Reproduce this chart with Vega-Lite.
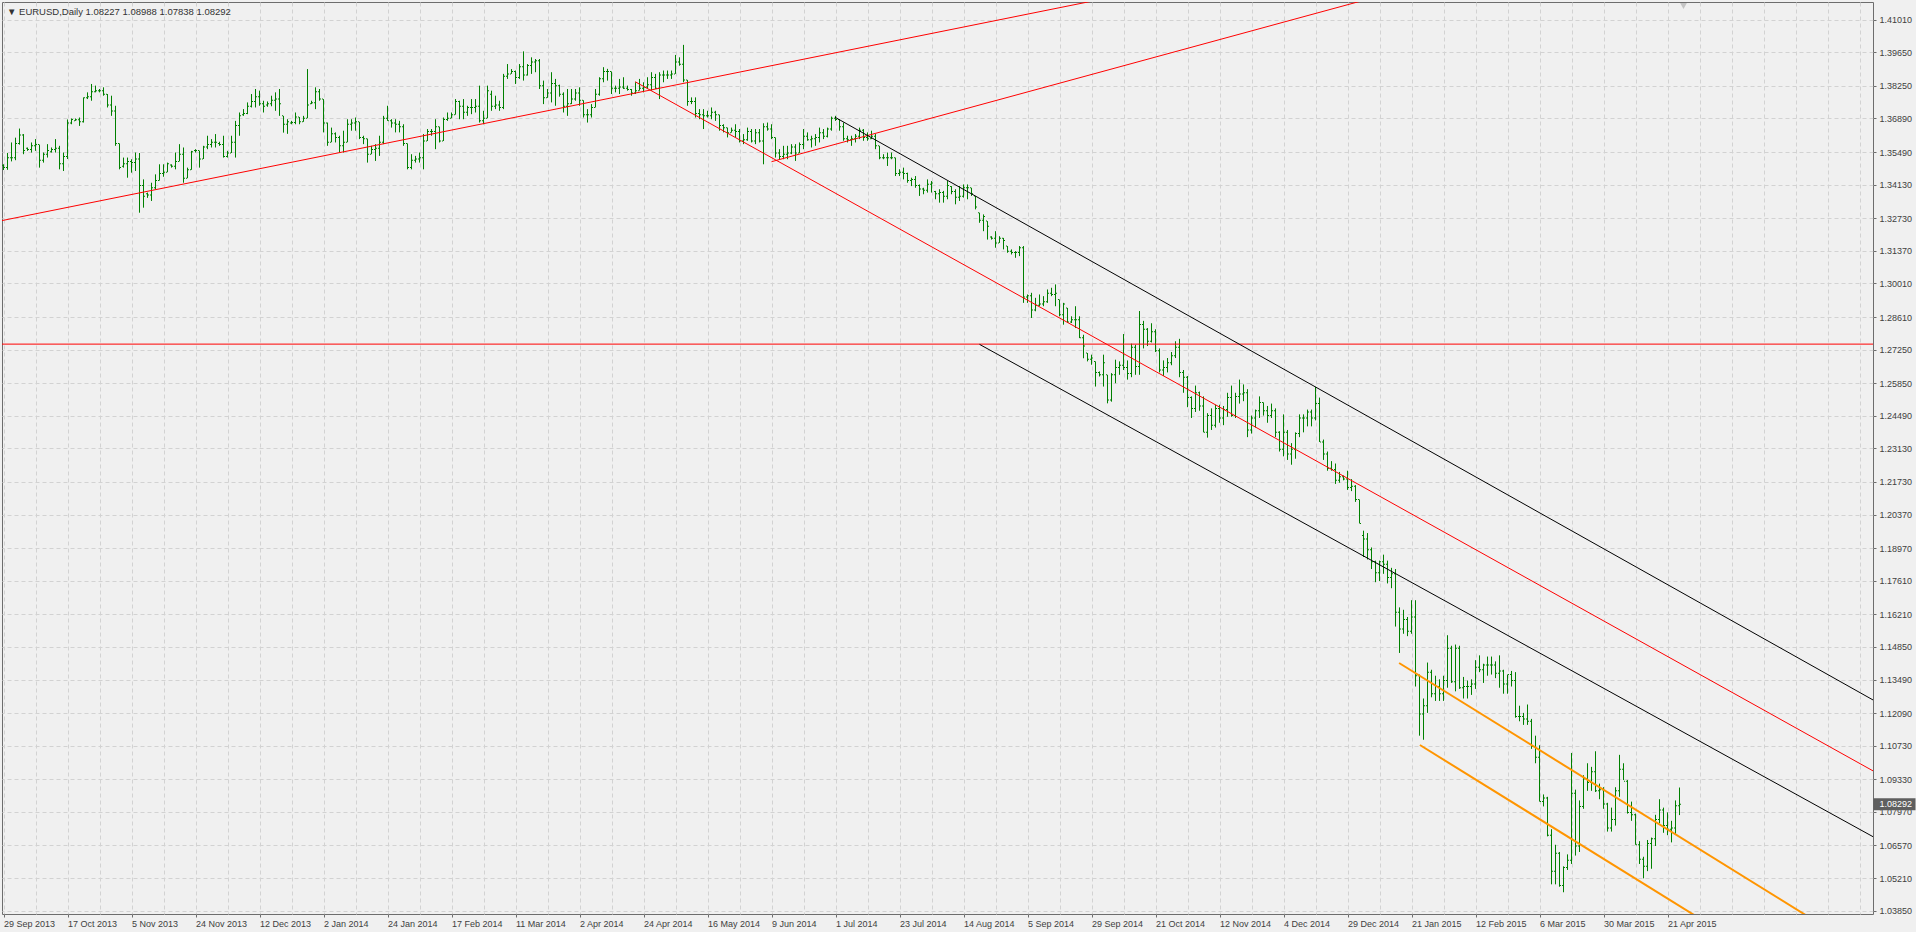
{
"$schema":"https://vega.github.io/schema/vega-lite/v6.json",
"width":1871,"height":912,
"autosize":{"type":"none"},
"padding":{"left":2,"top":2,"right":43,"bottom":18},
"background":"#f0f0f0",
"title":{"text":"▼ EURUSD,Daily  1.08227 1.08988 1.07838 1.08292","anchor":"start","frame":"group","offset":-14,"dx":5,"fontSize":9.5,"fontWeight":"normal","color":"#333333","font":"Liberation Sans"},
"config":{"view":{"stroke":"#6d6d6d","strokeWidth":1,"fill":"#f0f0f0"},"font":"Liberation Sans"},
"datasets":{
"bars":[
{"i":0,"o":1.3494,"h":1.3498,"l":1.3474,"c":1.3485},{"i":1,"o":1.3485,"h":1.3545,"l":1.3475,"c":1.3525},{"i":2,"o":1.3525,"h":1.3589,"l":1.3510,"c":1.3525},{"i":3,"o":1.3525,"h":1.3609,"l":1.3515,"c":1.3585},{"i":4,"o":1.3585,"h":1.3647,"l":1.3580,"c":1.3620},{"i":5,"o":1.3620,"h":1.3624,"l":1.3540,"c":1.3555},{"i":6,"o":1.3565,"h":1.3568,"l":1.3554,"c":1.3560},{"i":7,"o":1.3560,"h":1.3589,"l":1.3547,"c":1.3575},{"i":8,"o":1.3575,"h":1.3603,"l":1.3554,"c":1.3580},{"i":9,"o":1.3580,"h":1.3580,"l":1.3484,"c":1.3515},
{"i":10,"o":1.3515,"h":1.3547,"l":1.3505,"c":1.3540},{"i":11,"o":1.3540,"h":1.3582,"l":1.3526,"c":1.3555},{"i":12,"o":1.3550,"h":1.3568,"l":1.3547,"c":1.3560},{"i":13,"o":1.3560,"h":1.3603,"l":1.3547,"c":1.3565},{"i":14,"o":1.3565,"h":1.3575,"l":1.3477,"c":1.3500},{"i":15,"o":1.3500,"h":1.3547,"l":1.3470,"c":1.3530},{"i":16,"o":1.3530,"h":1.3685,"l":1.3520,"c":1.3670},{"i":17,"o":1.3670,"h":1.3689,"l":1.3665,"c":1.3685},{"i":18,"o":1.3680,"h":1.3689,"l":1.3679,"c":1.3684},{"i":19,"o":1.3684,"h":1.3693,"l":1.3658,"c":1.3675},
{"i":20,"o":1.3675,"h":1.3777,"l":1.3672,"c":1.3775},{"i":21,"o":1.3775,"h":1.3798,"l":1.3770,"c":1.3780},{"i":22,"o":1.3780,"h":1.3833,"l":1.3763,"c":1.3800},{"i":23,"o":1.3800,"h":1.3826,"l":1.3798,"c":1.3805},{"i":24,"o":1.3805,"h":1.3812,"l":1.3798,"c":1.3805},{"i":25,"o":1.3805,"h":1.3819,"l":1.3784,"c":1.3790},{"i":26,"o":1.3790,"h":1.3791,"l":1.3735,"c":1.3745},{"i":27,"o":1.3745,"h":1.3784,"l":1.3700,"c":1.3720},{"i":28,"o":1.3720,"h":1.3742,"l":1.3575,"c":1.3585},{"i":29,"o":1.3585,"h":1.3585,"l":1.3477,"c":1.3485},
{"i":30,"o":1.3490,"h":1.3526,"l":1.3484,"c":1.3500},{"i":31,"o":1.3500,"h":1.3526,"l":1.3442,"c":1.3510},{"i":32,"o":1.3510,"h":1.3519,"l":1.3463,"c":1.3505},{"i":33,"o":1.3505,"h":1.3547,"l":1.3470,"c":1.3520},{"i":34,"o":1.3520,"h":1.3545,"l":1.3296,"c":1.3410},{"i":35,"o":1.3410,"h":1.3435,"l":1.3317,"c":1.3365},{"i":36,"o":1.3375,"h":1.3380,"l":1.3358,"c":1.3370},{"i":37,"o":1.3370,"h":1.3421,"l":1.3345,"c":1.3400},{"i":38,"o":1.3400,"h":1.3456,"l":1.3394,"c":1.3430},{"i":39,"o":1.3430,"h":1.3498,"l":1.3430,"c":1.3460},
{"i":40,"o":1.3460,"h":1.3498,"l":1.3446,"c":1.3465},{"i":41,"o":1.3465,"h":1.3505,"l":1.3465,"c":1.3500},{"i":42,"o":1.3495,"h":1.3498,"l":1.3484,"c":1.3490},{"i":43,"o":1.3490,"h":1.3547,"l":1.3477,"c":1.3510},{"i":44,"o":1.3510,"h":1.3582,"l":1.3510,"c":1.3540},{"i":45,"o":1.3540,"h":1.3568,"l":1.3421,"c":1.3440},{"i":46,"o":1.3440,"h":1.3484,"l":1.3440,"c":1.3475},{"i":47,"o":1.3475,"h":1.3554,"l":1.3475,"c":1.3550},{"i":48,"o":1.3555,"h":1.3561,"l":1.3547,"c":1.3555},{"i":49,"o":1.3555,"h":1.3555,"l":1.3484,"c":1.3520},
{"i":50,"o":1.3520,"h":1.3575,"l":1.3520,"c":1.3570},{"i":51,"o":1.3570,"h":1.3617,"l":1.3561,"c":1.3580},{"i":52,"o":1.3580,"h":1.3603,"l":1.3568,"c":1.3590},{"i":53,"o":1.3590,"h":1.3624,"l":1.3568,"c":1.3590},{"i":54,"o":1.3585,"h":1.3592,"l":1.3575,"c":1.3580},{"i":55,"o":1.3580,"h":1.3617,"l":1.3526,"c":1.3530},{"i":56,"o":1.3530,"h":1.3554,"l":1.3526,"c":1.3545},{"i":57,"o":1.3545,"h":1.3617,"l":1.3545,"c":1.3590},{"i":58,"o":1.3590,"h":1.3679,"l":1.3526,"c":1.3660},{"i":59,"o":1.3660,"h":1.3714,"l":1.3617,"c":1.3700},
{"i":60,"o":1.3705,"h":1.3728,"l":1.3700,"c":1.3710},{"i":61,"o":1.3710,"h":1.3756,"l":1.3707,"c":1.3740},{"i":62,"o":1.3740,"h":1.3791,"l":1.3735,"c":1.3760},{"i":63,"o":1.3760,"h":1.3812,"l":1.3735,"c":1.3780},{"i":64,"o":1.3780,"h":1.3805,"l":1.3742,"c":1.3750},{"i":65,"o":1.3750,"h":1.3763,"l":1.3714,"c":1.3740},{"i":66,"o":1.3745,"h":1.3760,"l":1.3738,"c":1.3750},{"i":67,"o":1.3750,"h":1.3784,"l":1.3740,"c":1.3765},{"i":68,"o":1.3765,"h":1.3798,"l":1.3721,"c":1.3770},{"i":69,"o":1.3770,"h":1.3812,"l":1.3700,"c":1.3750},
{"i":70,"o":1.3700,"h":1.3700,"l":1.3630,"c":1.3665},{"i":71,"o":1.3665,"h":1.3686,"l":1.3625,"c":1.3675},{"i":72,"o":1.3670,"h":1.3679,"l":1.3665,"c":1.3672},{"i":73,"o":1.3672,"h":1.3714,"l":1.3665,"c":1.3695},{"i":74,"o":1.3695,"h":1.3695,"l":1.3665,"c":1.3675},{"i":75,"o":1.3675,"h":1.3700,"l":1.3675,"c":1.3690},{"i":76,"o":1.3690,"h":1.3895,"l":1.3690,"c":1.3745},{"i":77,"o":1.3750,"h":1.3763,"l":1.3749,"c":1.3755},{"i":78,"o":1.3755,"h":1.3819,"l":1.3728,"c":1.3800},{"i":79,"o":1.3800,"h":1.3812,"l":1.3763,"c":1.3770},
{"i":80,"o":1.3770,"h":1.3770,"l":1.3631,"c":1.3670},{"i":81,"o":1.3670,"h":1.3672,"l":1.3575,"c":1.3590},{"i":82,"o":1.3590,"h":1.3651,"l":1.3590,"c":1.3625},{"i":83,"o":1.3625,"h":1.3631,"l":1.3589,"c":1.3610},{"i":84,"o":1.3610,"h":1.3617,"l":1.3547,"c":1.3575},{"i":85,"o":1.3575,"h":1.3638,"l":1.3547,"c":1.3590},{"i":86,"o":1.3590,"h":1.3686,"l":1.3590,"c":1.3665},{"i":87,"o":1.3665,"h":1.3686,"l":1.3638,"c":1.3670},{"i":88,"o":1.3670,"h":1.3693,"l":1.3638,"c":1.3675},{"i":89,"o":1.3675,"h":1.3675,"l":1.3603,"c":1.3610},
{"i":90,"o":1.3610,"h":1.3617,"l":1.3582,"c":1.3605},{"i":91,"o":1.3605,"h":1.3605,"l":1.3505,"c":1.3540},{"i":92,"o":1.3540,"h":1.3575,"l":1.3540,"c":1.3560},{"i":93,"o":1.3560,"h":1.3582,"l":1.3512,"c":1.3565},{"i":94,"o":1.3565,"h":1.3617,"l":1.3533,"c":1.3590},{"i":95,"o":1.3590,"h":1.3700,"l":1.3582,"c":1.3690},{"i":96,"o":1.3690,"h":1.3742,"l":1.3679,"c":1.3680},{"i":97,"o":1.3680,"h":1.3686,"l":1.3651,"c":1.3670},{"i":98,"o":1.3670,"h":1.3686,"l":1.3631,"c":1.3665},{"i":99,"o":1.3665,"h":1.3679,"l":1.3631,"c":1.3655},
{"i":100,"o":1.3655,"h":1.3665,"l":1.3575,"c":1.3585},{"i":101,"o":1.3585,"h":1.3585,"l":1.3477,"c":1.3485},{"i":102,"o":1.3485,"h":1.3540,"l":1.3477,"c":1.3515},{"i":103,"o":1.3515,"h":1.3533,"l":1.3505,"c":1.3520},{"i":104,"o":1.3520,"h":1.3547,"l":1.3505,"c":1.3525},{"i":105,"o":1.3525,"h":1.3624,"l":1.3477,"c":1.3595},{"i":106,"o":1.3595,"h":1.3645,"l":1.3595,"c":1.3635},{"i":107,"o":1.3635,"h":1.3645,"l":1.3617,"c":1.3635},{"i":108,"o":1.3635,"h":1.3686,"l":1.3561,"c":1.3655},{"i":109,"o":1.3655,"h":1.3655,"l":1.3589,"c":1.3595},
{"i":110,"o":1.3595,"h":1.3693,"l":1.3595,"c":1.3685},{"i":111,"o":1.3685,"h":1.3714,"l":1.3679,"c":1.3690},{"i":112,"o":1.3690,"h":1.3714,"l":1.3690,"c":1.3705},{"i":113,"o":1.3705,"h":1.3770,"l":1.3705,"c":1.3760},{"i":114,"o":1.3760,"h":1.3763,"l":1.3686,"c":1.3740},{"i":115,"o":1.3740,"h":1.3770,"l":1.3686,"c":1.3715},{"i":116,"o":1.3715,"h":1.3742,"l":1.3700,"c":1.3735},{"i":117,"o":1.3735,"h":1.3770,"l":1.3707,"c":1.3735},{"i":118,"o":1.3735,"h":1.3770,"l":1.3714,"c":1.3740},{"i":119,"o":1.3740,"h":1.3826,"l":1.3672,"c":1.3680},
{"i":120,"o":1.3680,"h":1.3721,"l":1.3665,"c":1.3690},{"i":121,"o":1.3690,"h":1.3826,"l":1.3690,"c":1.3805},{"i":122,"o":1.3790,"h":1.3805,"l":1.3721,"c":1.3740},{"i":123,"o":1.3740,"h":1.3784,"l":1.3728,"c":1.3745},{"i":124,"o":1.3745,"h":1.3763,"l":1.3721,"c":1.3735},{"i":125,"o":1.3735,"h":1.3875,"l":1.3728,"c":1.3865},{"i":126,"o":1.3865,"h":1.3916,"l":1.3854,"c":1.3875},{"i":127,"o":1.3875,"h":1.3895,"l":1.3875,"c":1.3885},{"i":128,"o":1.3885,"h":1.3889,"l":1.3833,"c":1.3860},{"i":129,"o":1.3860,"h":1.3916,"l":1.3854,"c":1.3905},
{"i":130,"o":1.3905,"h":1.3969,"l":1.3847,"c":1.3870},{"i":131,"o":1.3870,"h":1.3916,"l":1.3868,"c":1.3910},{"i":132,"o":1.3910,"h":1.3944,"l":1.3875,"c":1.3925},{"i":133,"o":1.3925,"h":1.3937,"l":1.3882,"c":1.3930},{"i":134,"o":1.3930,"h":1.3937,"l":1.3812,"c":1.3825},{"i":135,"o":1.3825,"h":1.3847,"l":1.3749,"c":1.3775},{"i":136,"o":1.3775,"h":1.3812,"l":1.3775,"c":1.3795},{"i":137,"o":1.3795,"h":1.3882,"l":1.3756,"c":1.3835},{"i":138,"o":1.3835,"h":1.3854,"l":1.3742,"c":1.3825},{"i":139,"o":1.3825,"h":1.3830,"l":1.3780,"c":1.3790},
{"i":140,"o":1.3790,"h":1.3798,"l":1.3714,"c":1.3740},{"i":141,"o":1.3740,"h":1.3812,"l":1.3700,"c":1.3750},{"i":142,"o":1.3750,"h":1.3812,"l":1.3749,"c":1.3770},{"i":143,"o":1.3770,"h":1.3812,"l":1.3763,"c":1.3795},{"i":144,"o":1.3795,"h":1.3819,"l":1.3742,"c":1.3765},{"i":145,"o":1.3765,"h":1.3765,"l":1.3693,"c":1.3705},{"i":146,"o":1.3705,"h":1.3728,"l":1.3672,"c":1.3705},{"i":147,"o":1.3705,"h":1.3749,"l":1.3693,"c":1.3735},{"i":148,"o":1.3735,"h":1.3812,"l":1.3735,"c":1.3790},{"i":149,"o":1.3790,"h":1.3861,"l":1.3784,"c":1.3855},
{"i":150,"o":1.3855,"h":1.3903,"l":1.3840,"c":1.3885},{"i":151,"o":1.3885,"h":1.3896,"l":1.3847,"c":1.3885},{"i":152,"o":1.3885,"h":1.3885,"l":1.3791,"c":1.3815},{"i":153,"o":1.3815,"h":1.3826,"l":1.3798,"c":1.3815},{"i":154,"o":1.3815,"h":1.3854,"l":1.3791,"c":1.3820},{"i":155,"o":1.3820,"h":1.3861,"l":1.3812,"c":1.3815},{"i":156,"o":1.3815,"h":1.3826,"l":1.3805,"c":1.3810},{"i":157,"o":1.3810,"h":1.3812,"l":1.3784,"c":1.3795},{"i":158,"o":1.3795,"h":1.3840,"l":1.3791,"c":1.3805},{"i":159,"o":1.3805,"h":1.3854,"l":1.3805,"c":1.3815},
{"i":160,"o":1.3815,"h":1.3840,"l":1.3798,"c":1.3820},{"i":161,"o":1.3820,"h":1.3861,"l":1.3812,"c":1.3830},{"i":162,"o":1.3830,"h":1.3882,"l":1.3805,"c":1.3860},{"i":163,"o":1.3860,"h":1.3875,"l":1.3812,"c":1.3815},{"i":164,"o":1.3815,"h":1.3882,"l":1.3770,"c":1.3870},{"i":165,"o":1.3870,"h":1.3889,"l":1.3840,"c":1.3870},{"i":166,"o":1.3870,"h":1.3889,"l":1.3854,"c":1.3870},{"i":167,"o":1.3870,"h":1.3889,"l":1.3854,"c":1.3875},{"i":168,"o":1.3875,"h":1.3954,"l":1.3875,"c":1.3925},{"i":169,"o":1.3925,"h":1.3944,"l":1.3909,"c":1.3915},
{"i":170,"o":1.3915,"h":1.3996,"l":1.3840,"c":1.3850},{"i":171,"o":1.3850,"h":1.3850,"l":1.3742,"c":1.3760},{"i":172,"o":1.3760,"h":1.3777,"l":1.3749,"c":1.3760},{"i":173,"o":1.3760,"h":1.3777,"l":1.3693,"c":1.3710},{"i":174,"o":1.3710,"h":1.3728,"l":1.3686,"c":1.3705},{"i":175,"o":1.3705,"h":1.3728,"l":1.3645,"c":1.3700},{"i":176,"o":1.3700,"h":1.3721,"l":1.3693,"c":1.3700},{"i":177,"o":1.3700,"h":1.3735,"l":1.3686,"c":1.3715},{"i":178,"o":1.3715,"h":1.3721,"l":1.3679,"c":1.3705},{"i":179,"o":1.3705,"h":1.3705,"l":1.3638,"c":1.3660},
{"i":180,"o":1.3660,"h":1.3665,"l":1.3631,"c":1.3650},{"i":181,"o":1.3650,"h":1.3651,"l":1.3610,"c":1.3630},{"i":182,"o":1.3630,"h":1.3651,"l":1.3630,"c":1.3640},{"i":183,"o":1.3640,"h":1.3665,"l":1.3610,"c":1.3635},{"i":184,"o":1.3635,"h":1.3645,"l":1.3589,"c":1.3595},{"i":185,"o":1.3595,"h":1.3624,"l":1.3582,"c":1.3600},{"i":186,"o":1.3600,"h":1.3651,"l":1.3596,"c":1.3635},{"i":187,"o":1.3635,"h":1.3645,"l":1.3589,"c":1.3595},{"i":188,"o":1.3595,"h":1.3645,"l":1.3582,"c":1.3630},{"i":189,"o":1.3630,"h":1.3645,"l":1.3589,"c":1.3595},
{"i":190,"o":1.3595,"h":1.3669,"l":1.3498,"c":1.3655},{"i":191,"o":1.3655,"h":1.3672,"l":1.3638,"c":1.3645},{"i":192,"o":1.3645,"h":1.3665,"l":1.3603,"c":1.3610},{"i":193,"o":1.3610,"h":1.3610,"l":1.3526,"c":1.3545},{"i":194,"o":1.3545,"h":1.3561,"l":1.3519,"c":1.3530},{"i":195,"o":1.3530,"h":1.3575,"l":1.3519,"c":1.3540},{"i":196,"o":1.3540,"h":1.3575,"l":1.3519,"c":1.3545},{"i":197,"o":1.3545,"h":1.3582,"l":1.3540,"c":1.3570},{"i":198,"o":1.3570,"h":1.3582,"l":1.3512,"c":1.3545},{"i":199,"o":1.3545,"h":1.3589,"l":1.3545,"c":1.3580},
{"i":200,"o":1.3580,"h":1.3645,"l":1.3561,"c":1.3615},{"i":201,"o":1.3615,"h":1.3631,"l":1.3596,"c":1.3600},{"i":202,"o":1.3600,"h":1.3617,"l":1.3568,"c":1.3605},{"i":203,"o":1.3605,"h":1.3624,"l":1.3575,"c":1.3610},{"i":204,"o":1.3610,"h":1.3651,"l":1.3589,"c":1.3630},{"i":205,"o":1.3630,"h":1.3645,"l":1.3603,"c":1.3615},{"i":206,"o":1.3615,"h":1.3651,"l":1.3610,"c":1.3645},{"i":207,"o":1.3645,"h":1.3697,"l":1.3638,"c":1.3690},{"i":208,"o":1.3690,"h":1.3700,"l":1.3679,"c":1.3685},{"i":209,"o":1.3685,"h":1.3686,"l":1.3638,"c":1.3655},
{"i":210,"o":1.3655,"h":1.3672,"l":1.3596,"c":1.3605},{"i":211,"o":1.3605,"h":1.3617,"l":1.3589,"c":1.3600},{"i":212,"o":1.3600,"h":1.3617,"l":1.3575,"c":1.3605},{"i":213,"o":1.3605,"h":1.3624,"l":1.3589,"c":1.3615},{"i":214,"o":1.3615,"h":1.3651,"l":1.3603,"c":1.3640},{"i":215,"o":1.3640,"h":1.3645,"l":1.3596,"c":1.3610},{"i":216,"o":1.3610,"h":1.3631,"l":1.3596,"c":1.3605},{"i":217,"o":1.3605,"h":1.3638,"l":1.3603,"c":1.3615},{"i":218,"o":1.3615,"h":1.3624,"l":1.3561,"c":1.3575},{"i":219,"o":1.3575,"h":1.3575,"l":1.3519,"c":1.3525},
{"i":220,"o":1.3525,"h":1.3540,"l":1.3519,"c":1.3525},{"i":221,"o":1.3525,"h":1.3547,"l":1.3491,"c":1.3525},{"i":222,"o":1.3525,"h":1.3547,"l":1.3519,"c":1.3525},{"i":223,"o":1.3525,"h":1.3526,"l":1.3449,"c":1.3460},{"i":224,"o":1.3460,"h":1.3477,"l":1.3449,"c":1.3465},{"i":225,"o":1.3465,"h":1.3484,"l":1.3435,"c":1.3460},{"i":226,"o":1.3460,"h":1.3463,"l":1.3421,"c":1.3430},{"i":227,"o":1.3430,"h":1.3442,"l":1.3407,"c":1.3435},{"i":228,"o":1.3435,"h":1.3449,"l":1.3400,"c":1.3410},{"i":229,"o":1.3410,"h":1.3414,"l":1.3366,"c":1.3395},
{"i":230,"o":1.3395,"h":1.3400,"l":1.3373,"c":1.3390},{"i":231,"o":1.3390,"h":1.3435,"l":1.3380,"c":1.3415},{"i":232,"o":1.3415,"h":1.3428,"l":1.3380,"c":1.3420},{"i":233,"o":1.3385,"h":1.3387,"l":1.3352,"c":1.3375},{"i":234,"o":1.3375,"h":1.3394,"l":1.3338,"c":1.3380},{"i":235,"o":1.3380,"h":1.3387,"l":1.3338,"c":1.3365},{"i":236,"o":1.3365,"h":1.3428,"l":1.3352,"c":1.3410},{"i":237,"o":1.3405,"h":1.3407,"l":1.3373,"c":1.3385},{"i":238,"o":1.3385,"h":1.3394,"l":1.3331,"c":1.3360},{"i":239,"o":1.3360,"h":1.3407,"l":1.3345,"c":1.3365},
{"i":240,"o":1.3365,"h":1.3414,"l":1.3359,"c":1.3400},{"i":241,"o":1.3400,"h":1.3414,"l":1.3352,"c":1.3400},{"i":242,"o":1.3400,"h":1.3400,"l":1.3366,"c":1.3375},{"i":243,"o":1.3366,"h":1.3366,"l":1.3310,"c":1.3320},{"i":244,"o":1.3296,"h":1.3296,"l":1.3254,"c":1.3265},{"i":245,"o":1.3265,"h":1.3289,"l":1.3219,"c":1.3280},{"i":246,"o":1.3261,"h":1.3261,"l":1.3184,"c":1.3240},{"i":247,"o":1.3195,"h":1.3198,"l":1.3184,"c":1.3190},{"i":248,"o":1.3190,"h":1.3219,"l":1.3150,"c":1.3170},{"i":249,"o":1.3170,"h":1.3198,"l":1.3170,"c":1.3190},
{"i":250,"o":1.3190,"h":1.3191,"l":1.3143,"c":1.3180},{"i":251,"o":1.3157,"h":1.3157,"l":1.3129,"c":1.3135},{"i":252,"o":1.3135,"h":1.3143,"l":1.3122,"c":1.3130},{"i":253,"o":1.3130,"h":1.3136,"l":1.3108,"c":1.3130},{"i":254,"o":1.3130,"h":1.3157,"l":1.3115,"c":1.3150},{"i":255,"o":1.3150,"h":1.3157,"l":1.2920,"c":1.2945},{"i":256,"o":1.2945,"h":1.2955,"l":1.2920,"c":1.2950},{"i":257,"o":1.2950,"h":1.2962,"l":1.2857,"c":1.2890},{"i":258,"o":1.2890,"h":1.2941,"l":1.2885,"c":1.2910},{"i":259,"o":1.2910,"h":1.2955,"l":1.2906,"c":1.2915},
{"i":260,"o":1.2915,"h":1.2948,"l":1.2906,"c":1.2925},{"i":261,"o":1.2925,"h":1.2976,"l":1.2920,"c":1.2960},{"i":262,"o":1.2960,"h":1.2983,"l":1.2948,"c":1.2955},{"i":263,"o":1.2955,"h":1.2997,"l":1.2906,"c":1.2960},{"i":264,"o":1.2934,"h":1.2934,"l":1.2864,"c":1.2870},{"i":265,"o":1.2870,"h":1.2920,"l":1.2829,"c":1.2915},{"i":266,"o":1.2899,"h":1.2899,"l":1.2836,"c":1.2840},{"i":267,"o":1.2840,"h":1.2864,"l":1.2836,"c":1.2850},{"i":268,"o":1.2850,"h":1.2906,"l":1.2815,"c":1.2850},{"i":269,"o":1.2850,"h":1.2864,"l":1.2773,"c":1.2775},
{"i":270,"o":1.2775,"h":1.2787,"l":1.2689,"c":1.2740},{"i":271,"o":1.2711,"h":1.2711,"l":1.2676,"c":1.2685},{"i":272,"o":1.2685,"h":1.2704,"l":1.2662,"c":1.2690},{"i":273,"o":1.2676,"h":1.2676,"l":1.2571,"c":1.2630},{"i":274,"o":1.2630,"h":1.2634,"l":1.2613,"c":1.2620},{"i":275,"o":1.2620,"h":1.2704,"l":1.2571,"c":1.2670},{"i":276,"o":1.2620,"h":1.2620,"l":1.2501,"c":1.2515},{"i":277,"o":1.2515,"h":1.2627,"l":1.2508,"c":1.2620},{"i":278,"o":1.2620,"h":1.2683,"l":1.2585,"c":1.2650},{"i":279,"o":1.2650,"h":1.2676,"l":1.2620,"c":1.2660},
{"i":280,"o":1.2660,"h":1.2790,"l":1.2640,"c":1.2650},{"i":281,"o":1.2650,"h":1.2680,"l":1.2600,"c":1.2625},{"i":282,"o":1.2625,"h":1.2750,"l":1.2610,"c":1.2735},{"i":283,"o":1.2735,"h":1.2745,"l":1.2620,"c":1.2655},{"i":284,"o":1.2655,"h":1.2886,"l":1.2620,"c":1.2830},{"i":285,"o":1.2830,"h":1.2845,"l":1.2730,"c":1.2810},{"i":286,"o":1.2810,"h":1.2815,"l":1.2740,"c":1.2760},{"i":287,"o":1.2760,"h":1.2835,"l":1.2755,"c":1.2800},{"i":288,"o":1.2800,"h":1.2810,"l":1.2715,"c":1.2720},{"i":289,"o":1.2720,"h":1.2730,"l":1.2630,"c":1.2640},
{"i":290,"o":1.2640,"h":1.2680,"l":1.2615,"c":1.2650},{"i":291,"o":1.2650,"h":1.2690,"l":1.2630,"c":1.2670},{"i":292,"o":1.2670,"h":1.2715,"l":1.2660,"c":1.2700},{"i":293,"o":1.2700,"h":1.2760,"l":1.2690,"c":1.2735},{"i":294,"o":1.2735,"h":1.2770,"l":1.2610,"c":1.2630},{"i":295,"o":1.2630,"h":1.2640,"l":1.2545,"c":1.2610},{"i":296,"o":1.2610,"h":1.2615,"l":1.2485,"c":1.2525},{"i":297,"o":1.2525,"h":1.2530,"l":1.2440,"c":1.2480},{"i":298,"o":1.2480,"h":1.2575,"l":1.2465,"c":1.2545},{"i":299,"o":1.2545,"h":1.2550,"l":1.2470,"c":1.2490},
{"i":300,"o":1.2490,"h":1.2530,"l":1.2380,"c":1.2380},{"i":301,"o":1.2380,"h":1.2460,"l":1.2358,"c":1.2450},{"i":302,"o":1.2450,"h":1.2480,"l":1.2390,"c":1.2410},{"i":303,"o":1.2410,"h":1.2495,"l":1.2400,"c":1.2480},{"i":304,"o":1.2480,"h":1.2495,"l":1.2420,"c":1.2440},{"i":305,"o":1.2440,"h":1.2490,"l":1.2410,"c":1.2475},{"i":306,"o":1.2475,"h":1.2545,"l":1.2445,"c":1.2525},{"i":307,"o":1.2525,"h":1.2575,"l":1.2445,"c":1.2450},{"i":308,"o":1.2450,"h":1.2545,"l":1.2440,"c":1.2530},{"i":309,"o":1.2530,"h":1.2600,"l":1.2500,"c":1.2540},
{"i":310,"o":1.2540,"h":1.2580,"l":1.2510,"c":1.2545},{"i":311,"o":1.2545,"h":1.2560,"l":1.2360,"c":1.2390},{"i":312,"o":1.2390,"h":1.2450,"l":1.2375,"c":1.2440},{"i":313,"o":1.2440,"h":1.2475,"l":1.2400,"c":1.2470},{"i":314,"o":1.2470,"h":1.2530,"l":1.2440,"c":1.2505},{"i":315,"o":1.2505,"h":1.2505,"l":1.2450,"c":1.2470},{"i":316,"o":1.2470,"h":1.2490,"l":1.2420,"c":1.2450},{"i":317,"o":1.2450,"h":1.2500,"l":1.2440,"c":1.2470},{"i":318,"o":1.2470,"h":1.2480,"l":1.2360,"c":1.2380},{"i":319,"o":1.2380,"h":1.2385,"l":1.2300,"c":1.2310},
{"i":320,"o":1.2310,"h":1.2455,"l":1.2280,"c":1.2380},{"i":321,"o":1.2380,"h":1.2390,"l":1.2265,"c":1.2290},{"i":322,"o":1.2290,"h":1.2335,"l":1.2245,"c":1.2310},{"i":323,"o":1.2310,"h":1.2380,"l":1.2270,"c":1.2375},{"i":324,"o":1.2375,"h":1.2455,"l":1.2360,"c":1.2440},{"i":325,"o":1.2440,"h":1.2455,"l":1.2380,"c":1.2440},{"i":326,"o":1.2440,"h":1.2475,"l":1.2405,"c":1.2465},{"i":327,"o":1.2465,"h":1.2475,"l":1.2405,"c":1.2440},{"i":328,"o":1.2440,"h":1.2570,"l":1.2430,"c":1.2500},{"i":329,"o":1.2500,"h":1.2525,"l":1.2340,"c":1.2340},
{"i":330,"o":1.2340,"h":1.2350,"l":1.2265,"c":1.2290},{"i":331,"o":1.2290,"h":1.2300,"l":1.2220,"c":1.2230},{"i":332,"o":1.2230,"h":1.2260,"l":1.2220,"c":1.2225},{"i":333,"o":1.2225,"h":1.2250,"l":1.2165,"c":1.2180},{"i":334,"o":1.2180,"h":1.2215,"l":1.2170,"c":1.2195},{"i":335,"o":1.2195,"h":1.2200,"l":1.2180,"c":1.2185},{"i":336,"o":1.2185,"h":1.2220,"l":1.2140,"c":1.2150},{"i":337,"o":1.2150,"h":1.2185,"l":1.2135,"c":1.2155},{"i":338,"o":1.2155,"h":1.2160,"l":1.2090,"c":1.2100},{"i":339,"o":1.2100,"h":1.2100,"l":1.2000,"c":1.2000},
{"i":340,"o":1.1950,"h":1.1970,"l":1.1860,"c":1.1935},{"i":341,"o":1.1935,"h":1.1960,"l":1.1850,"c":1.1890},{"i":342,"o":1.1890,"h":1.1900,"l":1.1810,"c":1.1840},{"i":343,"o":1.1840,"h":1.1845,"l":1.1755,"c":1.1795},{"i":344,"o":1.1795,"h":1.1845,"l":1.1760,"c":1.1840},{"i":345,"o":1.1840,"h":1.1870,"l":1.1790,"c":1.1830},{"i":346,"o":1.1830,"h":1.1845,"l":1.1750,"c":1.1775},{"i":347,"o":1.1775,"h":1.1815,"l":1.1730,"c":1.1790},{"i":348,"o":1.1790,"h":1.1810,"l":1.1570,"c":1.1630},{"i":349,"o":1.1630,"h":1.1650,"l":1.1460,"c":1.1560},
{"i":350,"o":1.1560,"h":1.1640,"l":1.1540,"c":1.1600},{"i":351,"o":1.1600,"h":1.1610,"l":1.1530,"c":1.1550},{"i":352,"o":1.1550,"h":1.1680,"l":1.1540,"c":1.1610},{"i":353,"o":1.1610,"h":1.1680,"l":1.1320,"c":1.1365},{"i":354,"o":1.1365,"h":1.1370,"l":1.1115,"c":1.1205},{"i":355,"o":1.1205,"h":1.1270,"l":1.1098,"c":1.1240},{"i":356,"o":1.1240,"h":1.1420,"l":1.1210,"c":1.1380},{"i":357,"o":1.1380,"h":1.1390,"l":1.1275,"c":1.1290},{"i":358,"o":1.1290,"h":1.1365,"l":1.1260,"c":1.1320},{"i":359,"o":1.1320,"h":1.1350,"l":1.1260,"c":1.1290},
{"i":360,"o":1.1290,"h":1.1365,"l":1.1260,"c":1.1345},{"i":361,"o":1.1345,"h":1.1534,"l":1.1315,"c":1.1480},{"i":362,"o":1.1480,"h":1.1490,"l":1.1335,"c":1.1340},{"i":363,"o":1.1340,"h":1.1495,"l":1.1300,"c":1.1480},{"i":364,"o":1.1480,"h":1.1490,"l":1.1310,"c":1.1315},{"i":365,"o":1.1315,"h":1.1360,"l":1.1270,"c":1.1320},{"i":366,"o":1.1320,"h":1.1345,"l":1.1270,"c":1.1320},{"i":367,"o":1.1320,"h":1.1350,"l":1.1285,"c":1.1330},{"i":368,"o":1.1330,"h":1.1430,"l":1.1310,"c":1.1400},{"i":369,"o":1.1400,"h":1.1450,"l":1.1380,"c":1.1390},
{"i":370,"o":1.1390,"h":1.1415,"l":1.1335,"c":1.1410},{"i":371,"o":1.1410,"h":1.1445,"l":1.1365,"c":1.1410},{"i":372,"o":1.1410,"h":1.1445,"l":1.1370,"c":1.1410},{"i":373,"o":1.1410,"h":1.1425,"l":1.1355,"c":1.1375},{"i":374,"o":1.1375,"h":1.1450,"l":1.1315,"c":1.1385},{"i":375,"o":1.1385,"h":1.1390,"l":1.1290,"c":1.1330},{"i":376,"o":1.1330,"h":1.1370,"l":1.1290,"c":1.1370},{"i":377,"o":1.1370,"h":1.1385,"l":1.1320,"c":1.1345},{"i":378,"o":1.1345,"h":1.1380,"l":1.1190,"c":1.1195},{"i":379,"o":1.1195,"h":1.1240,"l":1.1175,"c":1.1195},
{"i":380,"o":1.1195,"h":1.1210,"l":1.1160,"c":1.1185},{"i":381,"o":1.1185,"h":1.1245,"l":1.1160,"c":1.1175},{"i":382,"o":1.1175,"h":1.1185,"l":1.1060,"c":1.1070},{"i":383,"o":1.1070,"h":1.1115,"l":1.1000,"c":1.1025},{"i":384,"o":1.1025,"h":1.1075,"l":1.0840,"c":1.0840},{"i":385,"o":1.0840,"h":1.0870,"l":1.0820,"c":1.0855},{"i":386,"o":1.0855,"h":1.0860,"l":1.0695,"c":1.0700},{"i":387,"o":1.0700,"h":1.0725,"l":1.0495,"c":1.0550},{"i":388,"o":1.0550,"h":1.0660,"l":1.0495,"c":1.0625},{"i":389,"o":1.0625,"h":1.0630,"l":1.0485,"c":1.0490},
{"i":390,"o":1.0490,"h":1.0570,"l":1.0462,"c":1.0565},{"i":391,"o":1.0565,"h":1.0620,"l":1.0555,"c":1.0595},{"i":392,"o":1.0595,"h":1.1043,"l":1.0580,"c":1.0875},{"i":393,"o":1.0875,"h":1.0890,"l":1.0615,"c":1.0655},{"i":394,"o":1.0655,"h":1.0845,"l":1.0630,"c":1.0820},{"i":395,"o":1.0820,"h":1.0950,"l":1.0810,"c":1.0935},{"i":396,"o":1.0935,"h":1.1000,"l":1.0885,"c":1.0920},{"i":397,"o":1.0920,"h":1.0985,"l":1.0885,"c":1.0965},{"i":398,"o":1.0965,"h":1.1050,"l":1.0880,"c":1.0885},{"i":399,"o":1.0885,"h":1.0915,"l":1.0850,"c":1.0890},
{"i":400,"o":1.0890,"h":1.0900,"l":1.0810,"c":1.0830},{"i":401,"o":1.0830,"h":1.0835,"l":1.0715,"c":1.0730},{"i":402,"o":1.0730,"h":1.0815,"l":1.0715,"c":1.0765},{"i":403,"o":1.0765,"h":1.0900,"l":1.0740,"c":1.0885},{"i":404,"o":1.0885,"h":1.1035,"l":1.0860,"c":1.0975},{"i":405,"o":1.0975,"h":1.1000,"l":1.0930,"c":1.0925},{"i":406,"o":1.0925,"h":1.0930,"l":1.0790,"c":1.0795},{"i":407,"o":1.0795,"h":1.0840,"l":1.0760,"c":1.0785},{"i":408,"o":1.0785,"h":1.0790,"l":1.0660,"c":1.0660},{"i":409,"o":1.0660,"h":1.0675,"l":1.0580,"c":1.0600},
{"i":410,"o":1.0600,"h":1.0610,"l":1.0520,"c":1.0570},{"i":411,"o":1.0570,"h":1.0680,"l":1.0550,"c":1.0665},{"i":412,"o":1.0665,"h":1.0690,"l":1.0560,"c":1.0685},{"i":413,"o":1.0685,"h":1.0785,"l":1.0655,"c":1.0765},{"i":414,"o":1.0765,"h":1.0850,"l":1.0750,"c":1.0805},{"i":415,"o":1.0805,"h":1.0815,"l":1.0710,"c":1.0740},{"i":416,"o":1.0740,"h":1.0795,"l":1.0700,"c":1.0725},{"i":417,"o":1.0725,"h":1.0760,"l":1.0670,"c":1.0730},{"i":418,"o":1.0730,"h":1.0845,"l":1.0705,"c":1.0823},{"i":419,"o":1.08227,"h":1.08988,"l":1.07838,"c":1.08292}
],
"lines":[
{"line":"fan1","kind":"red","i":-5,"v":1.32477},{"line":"fan1","kind":"red","i":280,"v":1.42048},
{"line":"fan2","kind":"red","i":192.0,"v":1.35088},{"line":"fan2","kind":"red","i":360,"v":1.42725},
{"line":"median","kind":"red","i":157.9,"v":1.38424},{"line":"median","kind":"red","i":470,"v":1.09439},
{"line":"level","kind":"red","i":-5,"v":1.2748},{"line":"level","kind":"red","i":470,"v":1.2748},
{"line":"upper","kind":"black","i":207.9,"v":1.36940},{"line":"upper","kind":"black","i":470,"v":1.12394},
{"line":"lower","kind":"black","i":244.0,"v":1.2747},{"line":"lower","kind":"black","i":470,"v":1.06696},
{"line":"chanUpper","kind":"orange","i":348.9,"v":1.14181},{"line":"chanUpper","kind":"orange","i":470,"v":1.01656},
{"line":"chanLower","kind":"orange","i":354.1,"v":1.10761},{"line":"chanLower","kind":"orange","i":470,"v":0.98774}
]
},
"encoding":{
 "x":{"field":"i","type":"quantitative","scale":{"domain":[-0.375,467.375],"nice":false,"zero":false},
   "axis":{"orient":"bottom","title":null,"domain":false,
    "values":[0,8,16,24,32,40,48,56,64,72,80,88,96,104,112,120,128,136,144,152,160,168,176,184,192,200,208,216,224,232,240,248,256,264,272,280,288,296,304,312,320,328,336,344,352,360,368,376,384,392,400,408,416,424,432,440,448,456,464],
    "labelExpr":"(datum.value % 16 == 0 && datum.value <= 416) ? ['29 Sep 2013','17 Oct 2013','5 Nov 2013','24 Nov 2013','12 Dec 2013','2 Jan 2014','24 Jan 2014','17 Feb 2014','11 Mar 2014','2 Apr 2014','24 Apr 2014','16 May 2014','9 Jun 2014','1 Jul 2014','23 Jul 2014','14 Aug 2014','5 Sep 2014','29 Sep 2014','21 Oct 2014','12 Nov 2014','4 Dec 2014','29 Dec 2014','21 Jan 2015','12 Feb 2015','6 Mar 2015','30 Mar 2015','21 Apr 2015'][round(datum.value/16)] : ''",
    "labelAlign":"left","labelBaseline":"top","labelPadding":2,"labelOverlap":false,"labelFlush":false,"labelBound":false,
    "labelFont":"Liberation Sans","labelFontSize":9,"labelColor":"#404040","tickSize":3,
    "tickColor":{"condition":{"test":"datum.value % 16 == 0 && datum.value <= 416","value":"#6d6d6d"},"value":"transparent"},
    "grid":true,"gridColor":"#d2d2d2","gridDash":[4,3],"gridWidth":1}},
 "y":{"type":"quantitative","scale":{"domain":[1.03713,1.41748],"nice":false,"zero":false},
   "axis":{"orient":"right","title":null,"domain":false,"values":[1.41010,1.39650,1.38250,1.36890,1.35490,1.34130,1.32730,1.31370,1.30010,1.28610,1.27250,1.25850,1.24490,1.23130,1.21730,1.20370,1.18970,1.17610,1.16210,1.14850,1.13490,1.12090,1.10730,1.09330,1.07970,1.06570,1.05210,1.03850],
    "format":".5f","labelFont":"Liberation Sans","labelFontSize":9,"labelColor":"#404040","labelPadding":3,"labelOverlap":false,"labelFlush":false,"labelBound":false,
    "tickSize":3,"tickColor":"#6d6d6d","grid":true,"gridColor":"#d2d2d2","gridDash":[4,3],"gridWidth":1}}
},
"layer":[
 {"data":{"name":"bars"},"mark":{"type":"rule","color":"#008000","strokeWidth":1},
  "encoding":{"y":{"field":"l","type":"quantitative"},"y2":{"field":"h"}}},
 {"data":{"name":"bars"},"mark":{"type":"tick","orient":"horizontal","size":1,"thickness":1,"xOffset":-1,"color":"#008000","opacity":1},
  "encoding":{"y":{"field":"o","type":"quantitative"}}},
 {"data":{"name":"bars"},"mark":{"type":"tick","orient":"horizontal","size":1,"thickness":1,"xOffset":1,"color":"#008000","opacity":1},
  "encoding":{"y":{"field":"c","type":"quantitative"}}},
 {"data":{"name":"lines"},"transform":[{"filter":"datum.kind == 'red'"}],"mark":{"type":"line","color":"#ff0000","strokeWidth":1,"clip":true},
  "encoding":{"y":{"field":"v","type":"quantitative"},"detail":{"field":"line"}}},
 {"data":{"name":"lines"},"transform":[{"filter":"datum.kind == 'black'"}],"mark":{"type":"line","color":"#000000","strokeWidth":1,"clip":true},
  "encoding":{"y":{"field":"v","type":"quantitative"},"detail":{"field":"line"}}},
 {"data":{"name":"lines"},"transform":[{"filter":"datum.kind == 'orange'"}],"mark":{"type":"line","color":"#ff9500","strokeWidth":2,"clip":true},
  "encoding":{"y":{"field":"v","type":"quantitative"},"detail":{"field":"line"}}},
 {"data":{"name":"bars"},"transform":[{"filter":"datum.i == 419"}],"mark":{"type":"tick","orient":"horizontal","size":42,"thickness":12,"color":"#5f5f5f","opacity":1,"xOffset":215},
  "encoding":{"y":{"field":"c","type":"quantitative"}}},
 {"data":{"name":"bars"},"transform":[{"filter":"datum.i == 419"}],"mark":{"type":"text","align":"left","baseline":"middle","font":"Liberation Sans","fontSize":9,"color":"#ffffff","xOffset":200},
  "encoding":{"y":{"field":"c","type":"quantitative"},"text":{"field":"c","type":"quantitative","format":".5f"}}},
 {"data":{"name":"bars"},"transform":[{"filter":"datum.i == 419"}],"mark":{"type":"point","shape":"triangle-down","size":45,"filled":true,"color":"#c4c4c4","opacity":1,"xOffset":4,"yOffset":4},
  "encoding":{"y":{"datum":1.41748,"type":"quantitative"}}}
]
}
